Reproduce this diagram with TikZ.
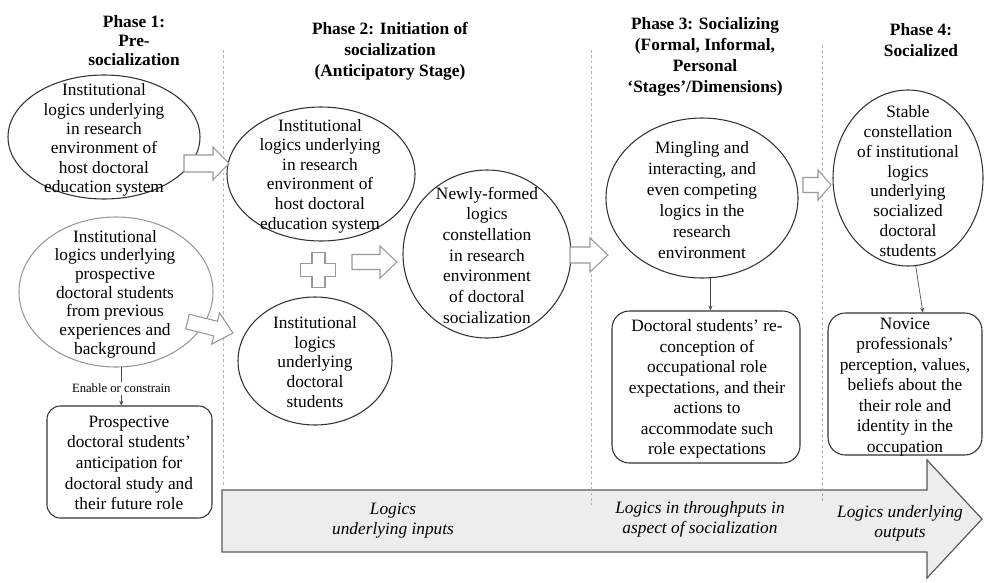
\documentclass[tikz,border=0pt]{standalone}
\usepackage{fontspec}
\setmainfont{Liberation Serif}
\usetikzlibrary{shapes.geometric,arrows.meta,calc}
\newcommand{\hollowarr}[6]{\draw[barrow] (#1,#2-#5) -- (#3,#2-#5) -- (#3,#2-#6) -- (#4,#2) -- (#3,#2+#6) -- (#3,#2+#5) -- (#1,#2+#5) -- cycle;}
\begin{document}
\begin{tikzpicture}[x=0.75pt,y=-0.75pt,
  ell/.style={ellipse, draw=black!80, line width=0.8pt, inner sep=0pt},
  grayell/.style={ellipse, draw=black!40, line width=0.8pt, inner sep=0pt},
  rbox/.style={rectangle, draw=black!80, line width=0.8pt, rounded corners=11pt, inner sep=0pt},
  txt/.style={align=center, inner sep=0pt, font=\fontsize{13}{15.2}\selectfont},
  hdr/.style={align=center, inner sep=0pt, font=\bfseries\fontsize{13}{15.5}\selectfont},
  lab/.style={align=center, inner sep=0pt, font=\itshape\fontsize{13}{15}\selectfont},
  barrow/.style={draw=black!40, fill=white, line width=0.8pt, line join=miter},
  bigarrow/.style={draw=black!65, fill=black!7, line width=0.9pt, line join=miter},
  divider/.style={draw=black!30, line width=0.7pt, dash pattern=on 2pt off 2pt},
  conn/.style={draw=black!70, line width=0.5pt, -{Stealth[length=3.5pt,width=3pt]}}
]
\useasboundingbox (0,0) rectangle (984,582);
\fill[white] (0,0) rectangle (984,582);

% big bottom arrow
\draw[bigarrow] (222,490) -- (927,490) -- (927,460) -- (982,519) -- (927,578) -- (927,552) -- (222,552) -- cycle;

% dividers
\draw[divider] (223,50) -- (223,486);
\draw[divider] (591,50) -- (591,505);
\draw[divider] (822,45) -- (822,502);

% headers
\node[hdr, font=\bfseries\fontsize{13}{14.3}\selectfont] (h1) at (134,41) {Phase 1:\\Pre-\\socialization};
\node[hdr, font=\bfseries\fontsize{13}{15.7}\selectfont] (h2) at (390,51) {Phase 2: Initiation of\\socialization\\(Anticipatory Stage)};
\node[hdr, font=\bfseries\fontsize{13}{15.7}\selectfont] (h3) at (705,57) {Phase 3: Socializing\\(Formal, Informal,\\Personal\\`Stages'/Dimensions)};
\node[hdr] (h4) at (921,40) {Phase 4:\\Socialized};

% ellipses
\node[ell, minimum width=144pt, minimum height=93pt] (A) at (104,137) {};
\node[grayell, minimum width=145.5pt, minimum height=112.5pt] (B) at (116,292) {};
\node[ell, minimum width=141pt, minimum height=100.5pt] (D) at (321,174) {};
\node[ell, minimum width=115.5pt, minimum height=96pt] (E) at (315,361) {};
\node[ell, minimum width=126pt, minimum height=126pt] (F) at (487,254) {};
\node[ell, minimum width=144pt, minimum height=120pt] (G) at (702,198) {};
\node[ell, minimum width=112.5pt, minimum height=132pt] (I) at (908,178) {};

% boxes
\node[rbox, minimum width=123.75pt, minimum height=84pt, rounded corners=10pt] (C) at (129.5,462) {};
\node[rbox, minimum width=141pt, minimum height=114pt, rounded corners=13pt] (H) at (706,387) {};
\node[rbox, minimum width=115.5pt, minimum height=106.5pt, rounded corners=13pt] (J) at (905,384) {};

% texts
\node[txt, font=\fontsize{13}{14.5}\selectfont] (At) at (104,140) {Institutional\\logics underlying\\in research\\environment of\\host doctoral\\education system};
\node[txt, font=\fontsize{13}{14}\selectfont] (Bt) at (115,294) {Institutional\\logics underlying\\prospective\\doctoral students\\from previous\\experiences and\\background};
\node[txt, font=\fontsize{13}{15.5}\selectfont] (Ct) at (129,463) {Prospective\\doctoral students'\\anticipation for\\doctoral study and\\their future role};
\node[txt, font=\fontsize{13}{14.7}\selectfont] (Dt) at (320,176) {Institutional\\logics underlying\\in research\\environment of\\host doctoral\\education system};
\node[txt, font=\fontsize{13}{14.8}\selectfont] (Et) at (315,362) {Institutional\\logics\\underlying\\doctoral\\students};
\node[txt, font=\fontsize{13}{15.5}\selectfont] (Ft) at (487,255) {Newly-formed\\logics\\constellation\\in research\\environment\\of doctoral\\socialization};
\node[txt, font=\fontsize{13}{15.7}\selectfont] (Gt) at (702,200) {Mingling and\\interacting, and\\even competing\\logics in the\\research\\environment};
\node[txt, font=\fontsize{13}{15.4}\selectfont] (Ht) at (707,389) {Doctoral students' re-\\conception of\\occupational role\\expectations, and their\\actions to\\accommodate such\\role expectations};
\node[txt, font=\fontsize{13}{14.8}\selectfont] (It) at (908,181) {Stable\\constellation\\of institutional\\logics\\underlying\\socialized\\doctoral\\students};
\node[txt, font=\fontsize{13}{15.4}\selectfont] (Jt) at (905,387) {Novice\\professionals'\\perception, values,\\beliefs about the\\their role and\\identity in the\\occupation};

% hollow block arrows
\hollowarr{184}{163.5}{213}{229}{8.5}{16.5}
\draw[barrow] (189.3,314.2) -- (217.5,321.3) -- (219.6,313.1) -- (233,333) -- (211.7,344.1) -- (213.8,335.9) -- (185.7,328.8) -- cycle;
\hollowarr{352}{262}{380}{397}{7.5}{16}
\hollowarr{570}{255}{590}{608}{8}{17}
\hollowarr{803}{185}{818}{831}{7.5}{15}

% plus sign
\draw[barrow] (312,252.5) -- (325,252.5) -- (325,263.5) -- (335.5,263.5) -- (335.5,276.5) -- (325,276.5) -- (325,287.5) -- (312,287.5) -- (312,276.5) -- (300.5,276.5) -- (300.5,263.5) -- (312,263.5) -- cycle;

% connectors
\draw[conn] (B.-86) -- (B.-86 |- C.north) node[pos=0.55, fill=white, inner sep=1.5pt, font=\fontsize{9.5}{11}\selectfont] (en) {Enable or constrain};
\draw[conn] (G.-84) -- (G.-84 |- H.north);
\draw[conn] (I.-85) -- (J.76);

% labels in big arrow
\node[lab] (l1) at (393,521) {Logics\\underlying inputs};
\node[lab] (l2) at (700,519) {Logics in throughputs in\\aspect of socialization};
\node[lab] (l3) at (900,523) {Logics underlying\\outputs};
\end{tikzpicture}
\end{document}
